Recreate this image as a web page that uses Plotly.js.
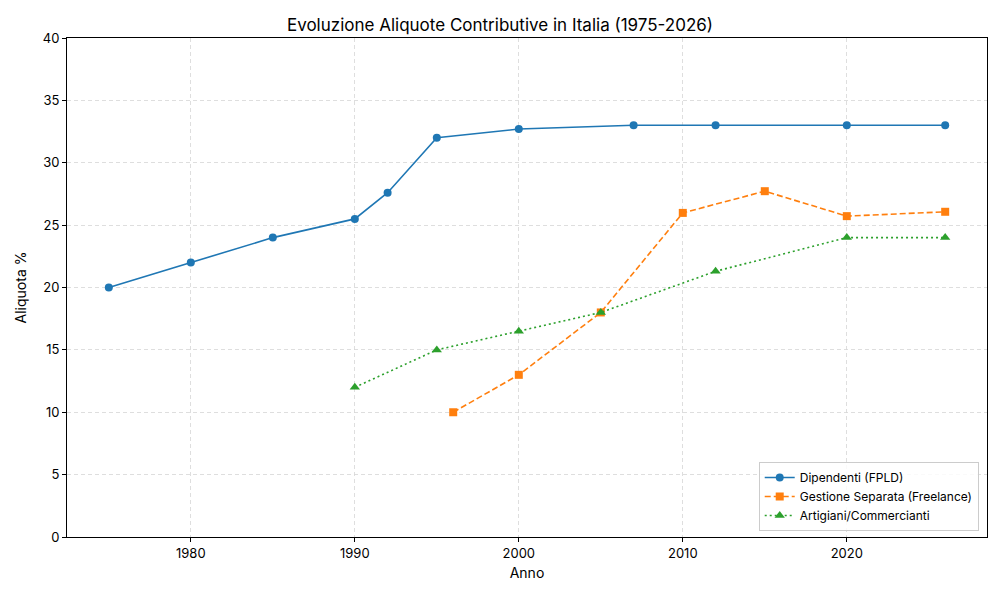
<!DOCTYPE html>
<html>
<head>
<meta charset="utf-8">
<script src="https://cdn.plot.ly/plotly-3.0.1.min.js"></script>
<style>html,body{margin:0;padding:0;background:#fff;}#chart{width:1000px;height:600px;}</style>
</head>
<body>
<div id="chart"></div>
<script>
const dipYears = [1975, 1980, 1985, 1990, 1992, 1995, 2000, 2007, 2012, 2020, 2026];
const dipVals  = [20, 22, 24, 25.5, 27.6, 32, 32.7, 33, 33, 33, 33];
const gsYears  = [1996, 2000, 2005, 2010, 2015, 2020, 2026];
const gsVals   = [10, 13, 18, 25.98, 27.72, 25.72, 26.07];
const acYears  = [1990, 1995, 2000, 2005, 2012, 2020, 2026];
const acVals   = [12, 15, 16.5, 18, 21.3, 24, 24];
const seriesNames = ["Dipendenti (FPLD)", "Gestione Separata (Freelance)", "Artigiani/Commercianti"];
const xTicks = [1980, 1990, 2000, 2010, 2020];
const yTicks = [0, 5, 10, 15, 20, 25, 30, 35, 40];

const FONT = "Inter, 'Open Sans', sans-serif";
const traces = [
  {x: dipYears, y: dipVals, name: seriesNames[0], mode: "lines+markers",
   line: {color: "#1f77b4", width: 1.6}, marker: {symbol: "circle", size: 8, color: "#1f77b4"}},
  {x: gsYears, y: gsVals, name: seriesNames[1], mode: "lines+markers",
   line: {color: "#ff7f0e", width: 1.6, dash: "6px,3px"}, marker: {symbol: "square", size: 8, color: "#ff7f0e"}},
  {x: acYears, y: acVals, name: seriesNames[2], mode: "lines+markers",
   line: {color: "#2ca02c", width: 1.6, dash: "2px,3px"}, marker: {symbol: "triangle-up", size: 9, color: "#2ca02c"}}
];
const layout = {
  width: 1000, height: 600,
  margin: {l: 67, r: 13, t: 38, b: 63},
  paper_bgcolor: "#fff", plot_bgcolor: "#fff",
  font: {family: FONT, color: "#000", size: 13},
  title: {text: "Evoluzione Aliquote Contributive in Italia (1975-2026)", x: 0.5, xanchor: "center", y: 0.958, yanchor: "middle", font: {size: 17, family: FONT}},
  xaxis: {
    range: [1972.45, 2028.55], tickvals: xTicks, ticktext: xTicks.map(String),
    showline: true, linecolor: "#000", linewidth: 1, mirror: true,
    ticks: "outside", ticklen: 4, tickcolor: "#000",
    showgrid: true, gridcolor: "#d6d6d6", griddash: "4px,3px", gridwidth: 0.8,
    zeroline: false, tickfont: {size: 13},
    title: {text: "Anno", font: {size: 14}, standoff: 8}
  },
  yaxis: {
    range: [0, 40], tickvals: yTicks, ticktext: yTicks.map(String),
    showline: true, linecolor: "#000", linewidth: 1, mirror: true,
    ticks: "outside", ticklen: 4, tickcolor: "#000",
    showgrid: true, gridcolor: "#d6d6d6", griddash: "4px,3px", gridwidth: 0.8,
    zeroline: false, tickfont: {size: 13},
    title: {text: "Aliquota %", font: {size: 14}, standoff: 12}
  },
  legend: {
    x: 0.991, y: 0.012, xanchor: "right", yanchor: "bottom",
    bgcolor: "rgba(255,255,255,0.85)", bordercolor: "#cccccc", borderwidth: 1,
    font: {size: 12, family: FONT}, tracegroupgap: 0
  },
  showlegend: true
};
Plotly.newPlot("chart", traces, layout, {displayModeBar: false, staticPlot: true});
</script>
</body>
</html>
